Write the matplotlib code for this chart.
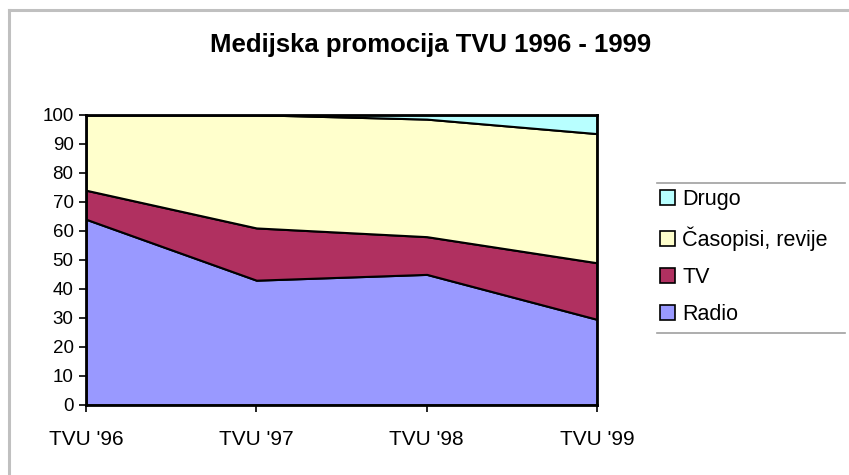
import numpy as np
import matplotlib.pyplot as plt
from matplotlib.lines import Line2D
from matplotlib.patches import Patch

# Data (percent)
years = ["TVU '96", "TVU '97", "TVU '98", "TVU '99"]
radio = [64, 43, 45, 29.5]
tv = [10, 18, 13, 19.5]
casopisi = [26, 39, 40.5, 44.5]
drugo = [0, 0, 1.5, 6.5]

labels = ["Radio", "TV", "Časopisi, revije", "Drugo"]
colors = ["#9999FF", "#B03060", "#FFFFCC", "#B8FFFF"]

plt.rcParams['font.family'] = ['Liberation Sans', 'DejaVu Sans']

fig = plt.figure(figsize=(8.49, 4.75), dpi=100)
ax = fig.add_axes([0.1013, 0.1474, 0.602, 0.611])

x = np.arange(len(years))
ax.stackplot(x, radio, tv, casopisi, drugo, colors=colors,
             edgecolor='black', linewidth=1.5)

ax.set_xlim(0, len(years) - 1)
ax.set_ylim(0, 100)
ax.set_yticks(range(0, 101, 10))
ax.set_xticks(x)
ax.set_xticklabels(years)
ax.tick_params(axis='y', labelsize=13.5, length=5, width=1.2, direction='out', pad=4)
ax.tick_params(axis='x', labelsize=15, length=5, width=1.2, direction='out', pad=13)
for s in ax.spines.values():
    s.set_linewidth(2)

fig.text(0.507, 0.905, "Medijska promocija TVU 1996 - 1999", ha='center', va='center',
         fontsize=18.5, fontweight='bold')

# legend
handles = [Patch(facecolor=c, edgecolor='black', linewidth=1.2) for c in colors]
leg = fig.legend(handles[::-1], labels[::-1], loc='center left',
                 bbox_to_anchor=(0.777, 0.459), frameon=False, fontsize=15.5,
                 handlelength=0.7, handleheight=0.7, handletextpad=0.35,
                 labelspacing=0.75, borderaxespad=0, borderpad=0)
for yy in (1 - 183 / 475, 1 - 333 / 475):
    fig.add_artist(Line2D([657 / 849, 845 / 849], [yy, yy], color='#a0a0a0', lw=1.2))

# outer frame (left and top)
fig.add_artist(Line2D([8.5 / 849, 8.5 / 849], [0, 1 - 9.5 / 475], color='#c0c0c0', lw=2.2))
fig.add_artist(Line2D([8.5 / 849, 1], [1 - 9.5 / 475, 1 - 9.5 / 475], color='#c0c0c0', lw=2.2))

fig.savefig("out.png", dpi=100)
